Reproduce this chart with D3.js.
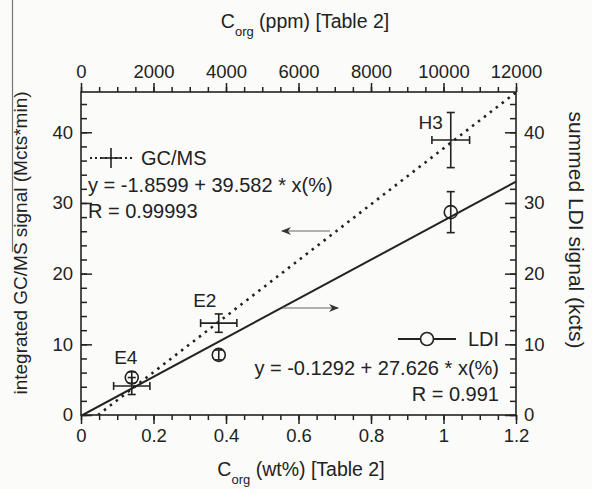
<!DOCTYPE html>
<html>
<head>
<meta charset="utf-8">
<script src="https://cdn.jsdelivr.net/npm/d3@7"></script>
<style>
  body { margin: 0; background: #fbfbfa; }
  svg { display: block; font-family: "Liberation Sans", Arial, sans-serif; }
  text { fill: #222; }
</style>
</head>
<body>
<svg id="chart" width="592" height="489"></svg>
<script>
// data
const samples = ["E4", "E2", "H3"]
const wt_pc = [0.14, 0.38, 1.02]
const wt_err = [0.05, 0.05, 0.052]
const gcms_signal = [4.1, 13.0, 38.9]
const gcms_err = [1.2, 1.3, 3.9]
const ldi_signal = [5.3, 8.5, 28.7]
const ldi_err = [0.8, 0.7, 2.9]

const gcms_fit = [-1.8599, 39.582]
const ldi_fit = [-0.1292, 27.626]

const bottom_ticks = [0, 0.2, 0.4, 0.6, 0.8, 1, 1.2]
const top_ticks = [0, 2000, 4000, 6000, 8000, 10000, 12000]
const left_ticks = [0, 10, 20, 30, 40]
const right_ticks = [0, 10, 20, 30, 40]

const svg = d3.select("#chart")
const p_left = 81, p_right = 516, p_top = 92, p_bottom = 415
const font = 18.5
const legend_font = 20
const ink = "#222"

const x = d3.scaleLinear().domain([0, 1.2]).range([p_left, p_right])
const x_top = d3.scaleLinear().domain([0, 12000]).range([p_left, p_right])
const y_left = d3.scaleLinear().domain([0, 45.7]).range([p_bottom, p_top])
const y_right = d3.scaleLinear().domain([0, 45.7]).range([p_bottom, p_top])

// page edge line on the left
svg.append("line").attr("x1", 12.5).attr("x2", 12.5).attr("y1", 0).attr("y2", 252)
	.attr("stroke", "#777").attr("stroke-width", 1.2)

// clip for fit lines
svg.append("clipPath").attr("id", "plotclip")
	.append("rect").attr("x", p_left).attr("y", p_top).attr("width", p_right-p_left).attr("height", p_bottom-p_top)

function style_axis(g){
	g.select(".domain").remove()
	g.selectAll("line").attr("stroke", ink).attr("stroke-width", 1.5)
	g.selectAll("text").attr("font-size", font).attr("fill", ink)
		.attr("font-family", '"Liberation Sans", Arial, sans-serif')
}

// minor ticks first
svg.append("g").attr("transform", `translate(0,${p_bottom})`)
	.call(d3.axisBottom(x).tickValues(d3.range(0, 1.2001, 0.05)).tickSize(5).tickFormat(""))
	.call(style_axis)
svg.append("g").attr("transform", `translate(0,${p_top})`)
	.call(d3.axisTop(x_top).tickValues(d3.range(0, 12001, 500)).tickSize(5).tickFormat(""))
	.call(style_axis)
svg.append("g").attr("transform", `translate(${p_left},0)`)
	.call(d3.axisLeft(y_left).tickValues(d3.range(0, 45, 2)).tickSizeInner(-6).tickSizeOuter(0).tickFormat(""))
	.call(style_axis)
svg.append("g").attr("transform", `translate(${p_right},0)`)
	.call(d3.axisRight(y_right).tickValues(d3.range(0, 45, 2)).tickSizeInner(-6).tickSizeOuter(0).tickFormat(""))
	.call(style_axis)

// major ticks + labels
svg.append("g").attr("transform", `translate(0,${p_bottom})`)
	.call(d3.axisBottom(x).tickValues(bottom_ticks).tickSize(9).tickPadding(5).tickFormat(d => d))
	.call(style_axis)
svg.append("g").attr("transform", `translate(0,${p_top})`)
	.call(d3.axisTop(x_top).tickValues(top_ticks).tickSize(9).tickPadding(5).tickFormat(d => d))
	.call(style_axis)
svg.append("g").attr("transform", `translate(${p_left},0)`)
	.call(d3.axisLeft(y_left).tickValues(left_ticks).tickSizeInner(-11).tickSizeOuter(0).tickPadding(8))
	.call(style_axis)
svg.append("g").attr("transform", `translate(${p_right},0)`)
	.call(d3.axisRight(y_right).tickValues(right_ticks).tickSizeInner(-11).tickSizeOuter(0).tickPadding(8))
	.call(style_axis)

// frame
svg.append("rect").attr("x", p_left).attr("y", p_top).attr("width", p_right-p_left).attr("height", p_bottom-p_top)
	.attr("fill", "none").attr("stroke", ink).attr("stroke-width", 1.6)

// axis titles
function corg_title(xp, yp, rest){
	let t = svg.append("text").attr("x", xp).attr("y", yp).attr("font-size", 19.5).attr("text-anchor", "middle")
	t.append("tspan").text("C")
	t.append("tspan").attr("font-size", 13).attr("dy", 8).text("org")
	t.append("tspan").attr("dy", -8).text(" " + rest)
}
corg_title(305, 28, "(ppm) [Table 2]")
corg_title(301, 476, "(wt%) [Table 2]")

svg.append("text").attr("transform", "translate(27,243) rotate(-90)")
	.attr("text-anchor", "middle").attr("font-size", 19)
	.text("integrated GC/MS signal (Mcts*min)")
svg.append("text").attr("transform", "translate(569,230) rotate(90)")
	.attr("text-anchor", "middle").attr("font-size", 21)
	.text("summed LDI signal (kcts)")

// fit lines
const plot = svg.append("g").attr("clip-path", "url(#plotclip)")
const line = d3.line().x(d => x(d[0])).y(d => y_left(d[1]))

let gx0 = -gcms_fit[0]/gcms_fit[1]
plot.append("path")
	.attr("d", line([[gx0, 0], [1.25, gcms_fit[0] + gcms_fit[1]*1.25]]))
	.attr("fill", "none").attr("stroke", ink).attr("stroke-width", 2.6)
	.attr("stroke-dasharray", "2.5,5")

let lx0 = -ldi_fit[0]/ldi_fit[1]
plot.append("path")
	.attr("d", d3.line().x(d => x(d[0])).y(d => y_right(d[1]))([[lx0, 0], [1.2, ldi_fit[0] + ldi_fit[1]*1.2]]))
	.attr("fill", "none").attr("stroke", ink).attr("stroke-width", 2)

// GC/MS crosses with error bars
const cap = 4
let gc = svg.append("g").attr("stroke", ink).attr("stroke-width", 1.6).attr("fill", "none")
samples.forEach((s, i) => {
	let cx = x(wt_pc[i]), cy = y_left(gcms_signal[i])
	let x1 = x(wt_pc[i]-wt_err[i]), x2 = x(wt_pc[i]+wt_err[i])
	let y1 = y_left(gcms_signal[i]-gcms_err[i]), y2 = y_left(gcms_signal[i]+gcms_err[i])
	gc.append("line").attr("x1", x1).attr("x2", x2).attr("y1", cy).attr("y2", cy)
	gc.append("line").attr("x1", x1).attr("x2", x1).attr("y1", cy-cap).attr("y2", cy+cap)
	gc.append("line").attr("x1", x2).attr("x2", x2).attr("y1", cy-cap).attr("y2", cy+cap)
	gc.append("line").attr("x1", cx).attr("x2", cx).attr("y1", y1).attr("y2", y2)
	gc.append("line").attr("x1", cx-cap).attr("x2", cx+cap).attr("y1", y1).attr("y2", y1)
	gc.append("line").attr("x1", cx-cap).attr("x2", cx+cap).attr("y1", y2).attr("y2", y2)
})

// LDI circles with error bars
let ld = svg.append("g").attr("stroke", ink).attr("stroke-width", 1.6).attr("fill", "none")
samples.forEach((s, i) => {
	let cx = x(wt_pc[i]), cy = y_right(ldi_signal[i])
	let y1 = y_right(ldi_signal[i]-ldi_err[i]), y2 = y_right(ldi_signal[i]+ldi_err[i])
	ld.append("line").attr("x1", cx).attr("x2", cx).attr("y1", y1).attr("y2", y2)
	ld.append("line").attr("x1", cx-cap).attr("x2", cx+cap).attr("y1", y1).attr("y2", y1)
	ld.append("line").attr("x1", cx-cap).attr("x2", cx+cap).attr("y1", y2).attr("y2", y2)
	ld.append("circle").attr("cx", cx).attr("cy", cy).attr("r", 6.5)
})

// sample labels
const label_offset = {E4: [-6, -22], E2: [-14, -16], H3: [-20, -11]}
svg.selectAll("text.sample").data(samples).enter().append("text")
	.classed("sample", true)
	.attr("x", (d,i) => x(wt_pc[i]) + label_offset[d][0])
	.attr("y", (d,i) => y_left(gcms_signal[i]) + label_offset[d][1])
	.attr("text-anchor", "middle").attr("font-size", 19)
	.text(d => d)

// legend GC/MS
let lg = svg.append("g")
lg.append("line").attr("x1", 90).attr("x2", 133).attr("y1", 158).attr("y2", 158)
	.attr("stroke", ink).attr("stroke-width", 2).attr("stroke-dasharray", "2,3")
lg.append("line").attr("x1", 100).attr("x2", 122).attr("y1", 158).attr("y2", 158).attr("stroke", ink).attr("stroke-width", 1.6)
lg.append("line").attr("x1", 111).attr("x2", 111).attr("y1", 148).attr("y2", 168).attr("stroke", ink).attr("stroke-width", 1.6)
lg.append("text").attr("x", 141).attr("y", 165).attr("font-size", legend_font).text("GC/MS")
lg.append("text").attr("x", 88).attr("y", 192).attr("font-size", legend_font)
	.text(`y = ${gcms_fit[0]} + ${gcms_fit[1]} * x(%)`)
lg.append("text").attr("x", 88).attr("y", 218).attr("font-size", legend_font).text("R = 0.99993")

// legend LDI
let ll = svg.append("g")
ll.append("line").attr("x1", 398).attr("x2", 456).attr("y1", 339).attr("y2", 339).attr("stroke", ink).attr("stroke-width", 1.8)
ll.append("circle").attr("cx", 427).attr("cy", 339).attr("r", 6.5).attr("fill", "#fbfbfa").attr("stroke", ink).attr("stroke-width", 1.6)
ll.append("text").attr("x", 499).attr("y", 346).attr("text-anchor", "end").attr("font-size", legend_font).text("LDI")
ll.append("text").attr("x", 499).attr("y", 375).attr("text-anchor", "end").attr("font-size", legend_font)
	.text(`y = ${ldi_fit[0]} + ${ldi_fit[1]} * x(%)`)
ll.append("text").attr("x", 499).attr("y", 401).attr("text-anchor", "end").attr("font-size", legend_font).text("R = 0.991")

// arrows
svg.append("defs").append("marker").attr("id", "head")
	.attr("viewBox", "0 0 10 10").attr("refX", 9).attr("refY", 5)
	.attr("markerWidth", 14).attr("markerHeight", 10).attr("markerUnits", "userSpaceOnUse").attr("orient", "auto")
	.append("path").attr("d", "M0,1 L10,5 L0,9 L3,5 Z").attr("fill", "#333")
svg.append("line").attr("x1", 330).attr("x2", 282).attr("y1", 231).attr("y2", 231)
	.attr("stroke", "#666").attr("stroke-width", 1.2).attr("marker-end", "url(#head)")
svg.append("line").attr("x1", 282).attr("x2", 338).attr("y1", 308).attr("y2", 308)
	.attr("stroke", "#666").attr("stroke-width", 1.2).attr("marker-end", "url(#head)")
</script>
</body>
</html>
